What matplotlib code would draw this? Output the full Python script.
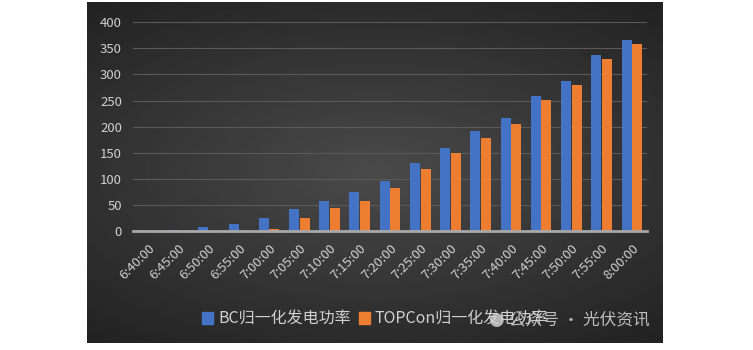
import matplotlib
matplotlib.use('Agg')
import matplotlib.pyplot as plt
import numpy as np
from matplotlib.patches import Patch

plt.rcParams['font.family'] = ['Noto Sans CJK SC', 'DejaVu Sans']

times = ['6:40:00', '6:45:00', '6:50:00', '6:55:00', '7:00:00', '7:05:00', '7:10:00',
         '7:15:00', '7:20:00', '7:25:00', '7:30:00', '7:35:00', '7:40:00', '7:45:00',
         '7:50:00', '7:55:00', '8:00:00']
bc = [0, 1, 8, 14, 24, 43, 58, 75, 96, 130, 160, 192, 217, 259, 288, 337, 367]
topcon = [0, 0, 0, 0, 4, 24, 45, 58, 83, 119, 149, 179, 206, 251, 280, 329, 359]
labels = ['BC归一化发电功率', 'TOPCon归一化发电功率']

blue = '#4472c4'
orange = '#ed7d31'
txt = '#d0d0d0'

fig = plt.figure(figsize=(7.53, 3.5), dpi=100)

# dark panel with a soft radial gradient
bg = fig.add_axes([87/753, 7/350, 576/753, 341/350])
yy, xx = np.mgrid[-1:1:200j, -1:1:300j]
r = np.sqrt((xx*0.9)**2 + (yy*1.1)**2)
bg.imshow(0.29 - 0.11*np.clip(r, 0, 1.4), cmap='gray', vmin=0, vmax=1,
          aspect='auto', extent=[0, 1, 0, 1])
bg.set_axis_off()

ax = fig.add_axes([133/753, 119/350, 514/753, 208.7/350])
ax.set_facecolor('none')
x = np.arange(len(times))
w = 0.33
ax.bar(x - 0.175, bc, w, color=blue, zorder=3)
ax.bar(x + 0.175, topcon, w, color=orange, zorder=3)

ax.set_xlim(-0.5, len(times) - 0.5)
ax.set_ylim(0, 400)
ax.set_yticks(range(0, 401, 50))
ax.grid(axis='y', color='#5a5a5a', linewidth=0.8, zorder=0)
for s in ['top', 'right', 'left']:
    ax.spines[s].set_visible(False)
ax.spines['bottom'].set_color('#a8a8a8')
ax.spines['bottom'].set_linewidth(2)
ax.spines['bottom'].set_zorder(4)
ax.tick_params(axis='both', length=0, colors=txt, labelsize=9.5)
ax.tick_params(axis='y', pad=8)
ax.set_xticks(x)
ax.set_xticklabels(times, rotation=45, ha='right', rotation_mode='anchor')
ax.tick_params(axis='x', pad=8)

handles = [Patch(color=blue), Patch(color=orange)]
fig.legend(handles, labels, loc='center', bbox_to_anchor=(375/753, 1 - 319/350),
           ncol=2, frameon=False, fontsize=11.5, labelcolor=txt,
           handlelength=0.7, handleheight=0.7, handletextpad=0.3, columnspacing=0.5)

# watermark
fig.text(497/753, 1 - 320/350, '●', color='#d8d8d8', alpha=0.8,
         fontsize=13, ha='center', va='center', family='DejaVu Sans')
fig.text(579/753, 1 - 320/350, '公众号 · 光伏资讯', color='#d8d8d8', alpha=0.85,
         fontsize=12, ha='center', va='center')

fig.savefig('out.png', dpi=100, facecolor='white')
